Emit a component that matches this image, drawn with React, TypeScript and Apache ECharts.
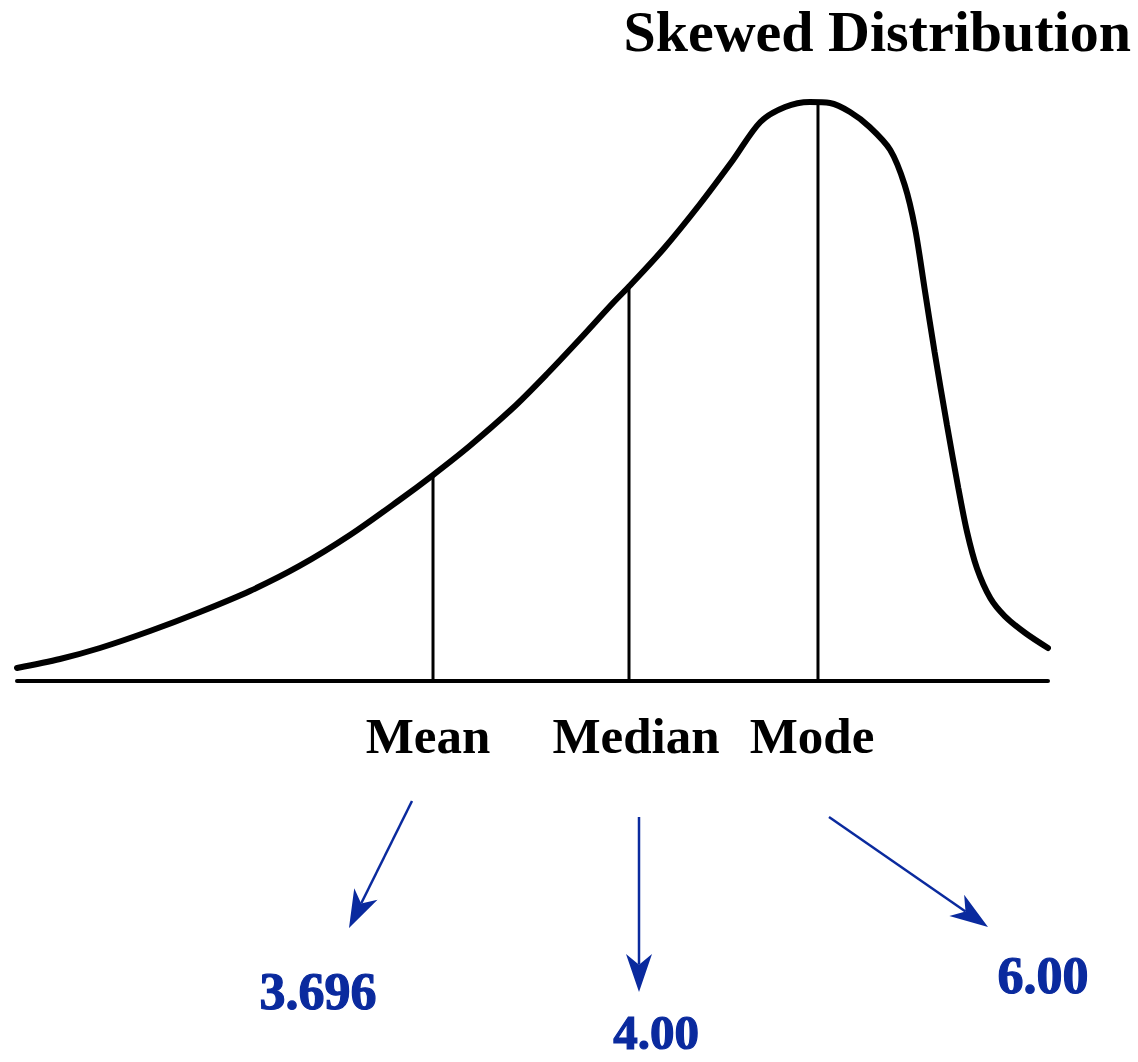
import React, { useEffect, useRef } from "react";
import * as echarts from "echarts";

// Curve of the skewed distribution (schematic units: x 0..100, y 0..100)
const curveX = [0, 4.17, 8.05, 12.9, 17.75, 22.6, 27.4, 32.3, 37.1, 40.35, 43.9, 48.1, 51.4, 54.6, 57.8, 59.5, 62.7, 66.25, 69.45, 72.1, 74.5, 76.9, 78.85, 80.8, 82.7, 84.7, 86.1, 87.1, 88.05, 89.0, 90.2, 91.3, 92.15, 93.1, 94.4, 95.8, 97.8, 100];
const curveY = [2.17, 3.67, 5.5, 8.33, 11.5, 15.0, 19.17, 24.33, 30.17, 34.33, 39.17, 45.5, 51.17, 57.0, 63.0, 66.0, 72.0, 79.5, 86.83, 93.17, 95.67, 96.5, 96.33, 94.83, 92.33, 88.5, 82.67, 75.5, 65.17, 54.83, 42.67, 32.17, 24.83, 18.83, 13.83, 10.83, 8.0, 5.5];

// Central tendency markers
const markerNames = ["Mean", "Median", "Mode"];
const markerX = [40.35, 59.36, 77.69];
const markerTop = [34.33, 66.0, 96.5];
const markerValues = ["3.696", "4.00", "6.00"];

const titleText = "Skewed Distribution";

const BLUE = "#0a2a9e";

export default function App() {
  const ref = useRef<HTMLDivElement>(null);

  useEffect(() => {
    if (!ref.current) return;
    const chart = echarts.init(ref.current, undefined, { renderer: "svg" });

    // annotation layout (pixel positions)
    const labelPos = [[428, 736], [636, 736], [812, 736]];
    const valuePos = [[318, 991], [656, 1032], [1043, 975]];
    const valueSize = [52, 49, 52];
    const arrowPos = [
      { from: [412, 801], to: [349, 928] },
      { from: [639, 817], to: [639, 992] },
      { from: [829, 817], to: [988, 927] },
    ];

    const arrowGraphics: any[] = [];
    arrowPos.forEach((a) => {
      const dx = a.to[0] - a.from[0];
      const dy = a.to[1] - a.from[1];
      const len = Math.sqrt(dx * dx + dy * dy);
      const ux = dx / len, uy = dy / len;
      const px = -uy, py = ux;
      const L = 38, W = 13;
      const bx = a.to[0] - ux * L, by = a.to[1] - uy * L;
      const nx = a.to[0] - ux * L * 0.72, ny = a.to[1] - uy * L * 0.72;
      arrowGraphics.push({
        type: "line",
        shape: { x1: a.from[0], y1: a.from[1], x2: nx, y2: ny },
        style: { stroke: BLUE, lineWidth: 2.5 },
      });
      arrowGraphics.push({
        type: "polygon",
        shape: {
          points: [
            [a.to[0], a.to[1]],
            [bx + px * W, by + py * W],
            [nx, ny],
            [bx - px * W, by - py * W],
          ],
        },
        style: { fill: BLUE },
      });
    });

    const serif = '"Liberation Serif", "Times New Roman", serif';

    const graphics: any[] = [
      {
        type: "text",
        x: 1131,
        y: 31,
        style: {
          text: titleText,
          fontFamily: serif,
          fontWeight: "bold",
          fontSize: 58,
          fill: "#000",
          align: "right",
          verticalAlign: "middle",
        },
      },
      ...markerNames.map((n, i) => ({
        type: "text",
        x: labelPos[i][0],
        y: labelPos[i][1],
        style: {
          text: n,
          fontFamily: serif,
          fontWeight: "bold",
          fontSize: 51,
          fill: "#000",
          align: "center",
          verticalAlign: "middle",
        },
      })),
      ...markerValues.map((v, i) => ({
        type: "text",
        x: valuePos[i][0],
        y: valuePos[i][1],
        style: {
          text: v,
          fontFamily: serif,
          fontWeight: "bold",
          fontSize: valueSize[i],
          fill: BLUE,
          stroke: BLUE,
          lineWidth: 1.2,
          align: "center",
          verticalAlign: "middle",
        },
      })),
      ...arrowGraphics,
    ];

    const verticalSeries = markerNames.map((n, i) => ({
      name: n,
      type: "line",
      symbol: "none",
      silent: true,
      lineStyle: { color: "#000", width: 3 },
      data: [
        [markerX[i], 0],
        [markerX[i], markerTop[i]],
      ],
      z: 2,
    }));

    chart.setOption({
      animation: false,
      backgroundColor: "#fff",
      grid: { left: 17, right: 90, top: 81, bottom: 381 },
      xAxis: {
        type: "value",
        min: 0,
        max: 100,
        axisLine: { show: true, onZero: true, lineStyle: { color: "#000", width: 4 } },
        axisTick: { show: false },
        axisLabel: { show: false },
        splitLine: { show: false },
      },
      yAxis: {
        type: "value",
        min: 0,
        max: 100,
        show: false,
        splitLine: { show: false },
      },
      series: [
        {
          name: "Distribution",
          type: "line",
          symbol: "none",
          smooth: 0.3,
          lineStyle: { color: "#000", width: 6, cap: "round" },
          data: curveX.map((x, i) => [x, curveY[i]]),
          z: 3,
        },
        ...verticalSeries,
      ],
      graphic: graphics,
    });

    return () => chart.dispose();
  }, []);

  return (
    <div
      ref={ref}
      style={{ position: "fixed", left: 0, top: 0, width: 1138, height: 1062, background: "#fff" }}
    />
  );
}
